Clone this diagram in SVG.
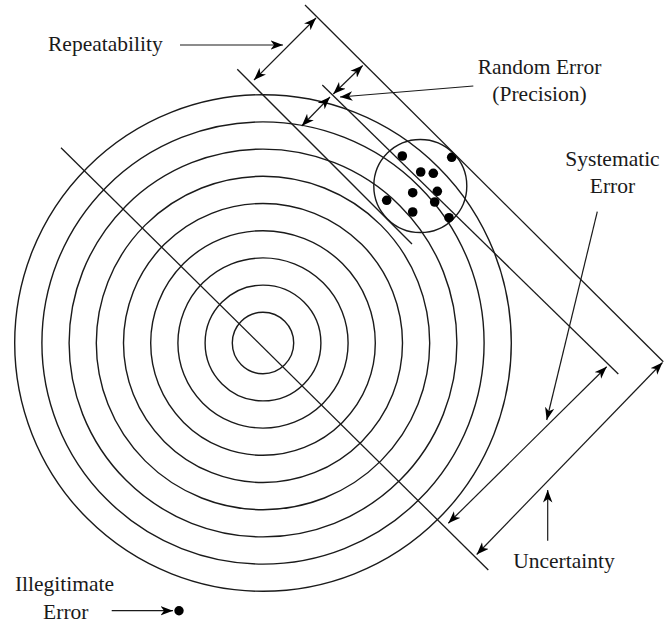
<svg xmlns="http://www.w3.org/2000/svg" width="665" height="623" viewBox="0 0 665 623">
<style>
.ln{stroke:#1a1a1a;stroke-width:1.3;fill:none}
.ring{stroke:#1a1a1a;stroke-width:1.4;fill:none}
.ar{stroke:#1a1a1a;stroke-width:1.2;fill:none;marker-end:url(#ah)}
.dim{stroke:#1a1a1a;stroke-width:1.2;fill:none;marker-start:url(#ah);marker-end:url(#ah)}
.dot{fill:#000}
.lbl{font-size:21.5px;fill:#1a1a1a}
.c{text-anchor:middle}
</style>
<defs>
<marker id="ah" markerUnits="userSpaceOnUse" markerWidth="14" markerHeight="10" refX="12.5" refY="5" orient="auto-start-reverse">
<path d="M0,0.3 L12.5,5 L0,9.7 L3.5,5 Z" fill="#000"/>
</marker>
</defs>
<rect width="665" height="623" fill="#fff"/>
<g id="target">
<circle class="ring" cx="263" cy="343" r="30.7"/>
<circle class="ring" cx="263" cy="343" r="57.9"/>
<circle class="ring" cx="263" cy="343" r="85.1"/>
<circle class="ring" cx="263" cy="343" r="112.3"/>
<circle class="ring" cx="263" cy="343" r="139.5"/>
<circle class="ring" cx="263" cy="343" r="166.7"/>
<circle class="ring" cx="263" cy="343" r="193.9"/>
<circle class="ring" cx="263" cy="343" r="221.1"/>
<circle class="ring" cx="263" cy="343" r="248.3"/>
</g>
<g id="cluster">
<circle class="ring" cx="420.3" cy="186" r="46.5"/>
<circle class="dot" cx="402.3" cy="156" r="4.8"/>
<circle class="dot" cx="451.7" cy="157.3" r="4.8"/>
<circle class="dot" cx="420.7" cy="172" r="4.8"/>
<circle class="dot" cx="433.3" cy="173.3" r="4.8"/>
<circle class="dot" cx="412.7" cy="192.7" r="4.8"/>
<circle class="dot" cx="437.3" cy="191.3" r="4.8"/>
<circle class="dot" cx="386.7" cy="200.3" r="4.8"/>
<circle class="dot" cx="434.7" cy="202" r="4.8"/>
<circle class="dot" cx="412.7" cy="212" r="4.8"/>
<circle class="dot" cx="449" cy="217.7" r="4.8"/>
</g>
<g id="illegitimate-dot">
<circle class="dot" cx="179" cy="610.7" r="4.7"/>
</g>
<g id="connectors">
<line class="ln" x1="61" y1="147.7" x2="488.3" y2="570"/>
<line class="ln" x1="305" y1="5" x2="663.3" y2="361.7"/>
<line class="ln" x1="237.3" y1="69.3" x2="412" y2="244"/>
<line class="ln" x1="322.3" y1="85" x2="618.3" y2="374"/>
<line class="dim" x1="254" y1="80" x2="316" y2="18"/>
<line class="dim" x1="333.3" y1="94" x2="362.7" y2="65.5"/>
<line class="dim" x1="301.7" y1="126" x2="330" y2="97"/>
<line class="dim" x1="448.3" y1="523.3" x2="606.7" y2="366.7"/>
<line class="dim" x1="476.7" y1="554.5" x2="662.5" y2="362.5"/>
<line class="ar" x1="180" y1="45" x2="283" y2="45"/>
<line class="ar" x1="473.3" y1="86" x2="340" y2="97"/>
<line class="ar" x1="597.3" y1="211.7" x2="546.7" y2="420"/>
<line class="ar" x1="547.7" y1="540.7" x2="547.7" y2="490"/>
<line class="ar" x1="111.7" y1="610.7" x2="173" y2="610.7"/>
</g>
<g id="labels" font-family="'Liberation Serif', 'Times New Roman', 'DejaVu Serif', 'Noto Serif', serif">
<text class="lbl" x="48" y="50.5">Repeatability</text>
<text class="lbl c" x="539.5" y="74.3">Random Error</text>
<text class="lbl c" x="539.5" y="101">(Precision)</text>
<text class="lbl c" x="612.5" y="166">Systematic</text>
<text class="lbl c" x="612.5" y="192.7">Error</text>
<text class="lbl c" x="564" y="567.5">Uncertainty</text>
<text class="lbl c" x="64.5" y="590.7">Illegitimate</text>
<text class="lbl c" x="65.8" y="618.5">Error</text>
</g>
</svg>
